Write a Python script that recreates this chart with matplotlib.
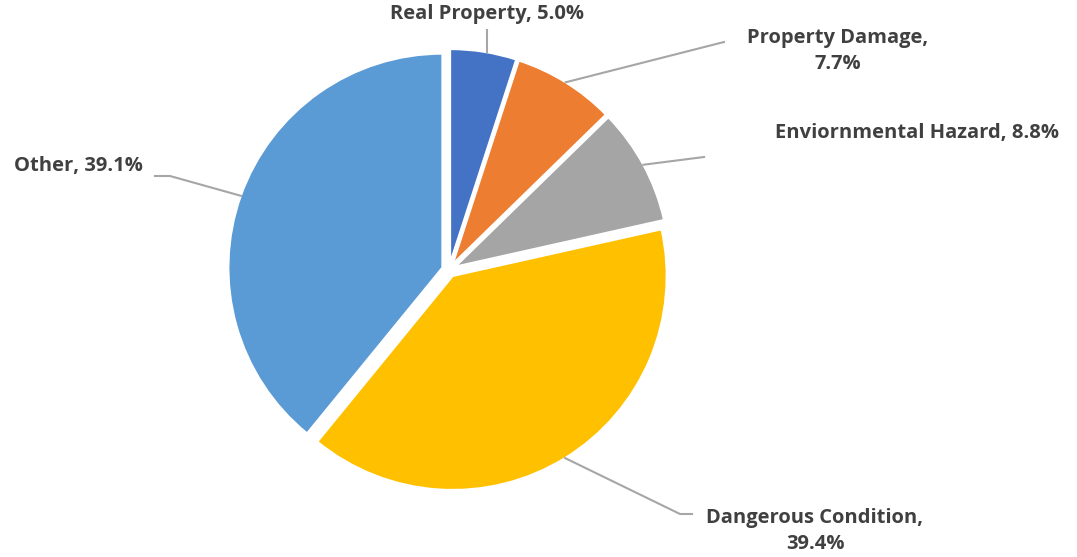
import numpy as np
import matplotlib.pyplot as plt

labels = ["Real Property", "Property Damage", "Enviornmental Hazard",
          "Dangerous Condition", "Other"]
shares = [5.0, 7.7, 8.8, 39.4, 39.1]
colors = ["#4472C4", "#ED7D31", "#A5A5A5", "#FFC000", "#5B9BD5"]

W, H = 1077, 557
fig = plt.figure(figsize=(W / 100, H / 100), dpi=100)
ax = fig.add_axes([0, 0, 1, 1])

# pixel coords measured from top, flipped for matplotlib
def P(x, y):
    return x, H - y

cx, cy = P(449, 270)
r = 214
wedges, _ = ax.pie(shares, colors=colors, startangle=90, counterclock=False,
                   center=(cx, cy), radius=r, explode=[7] * 5,
                   wedgeprops=dict(edgecolor="white", linewidth=1.5),
                   frame=True)
ax.set_xlim(0, W)
ax.set_ylim(0, H)
ax.set_aspect("equal")
ax.axis("off")

txt = dict(fontsize=14.5, fontweight="bold", color="#404040",
           family=["Open Sans", "DejaVu Sans"])
line = dict(color="#A6A6A6", lw=1.5)


def edge_point(w, frac=0.5):
    a = np.deg2rad(w.theta1 + (w.theta2 - w.theta1) * frac)
    x0, y0 = w.center
    return x0 + w.r * np.cos(a), y0 + w.r * np.sin(a)


# label text, text pos, leader end
lab = [
    (f"{labels[0]}, {shares[0]:.1f}%", P(487, 14), P(487, 30)),
    (f"{labels[1]},\n{shares[1]:.1f}%", P(838, 51), P(724, 42)),
    (f"{labels[2]}, {shares[2]:.1f}%", P(917, 133), P(704, 157)),
    (f"{labels[3]},\n{shares[3]:.1f}%", P(815, 531), P(692, 514)),
    (f"{labels[4]}, {shares[4]:.1f}%", P(78, 166), P(155, 176)),
]

for w, (s, pos, end) in zip(wedges, lab):
    ex, ey = edge_point(w)
    if s.startswith("Real"):
        ax.plot([end[0], end[0]], [end[1], ey], **line)
    elif s.startswith("Other"):
        ax.plot([end[0], end[0] + 15, ex], [end[1], end[1], ey], **line)
    elif s.startswith("Dangerous"):
        ax.plot([ex, end[0] - 12, end[0]], [ey, end[1], end[1]], **line)
    else:
        ax.plot([ex, end[0]], [ey, end[1]], **line)
    ax.text(pos[0], pos[1], s, ha="center", va="center", linespacing=1.45, **txt)

fig.savefig("out.png", dpi=100, facecolor="white")
